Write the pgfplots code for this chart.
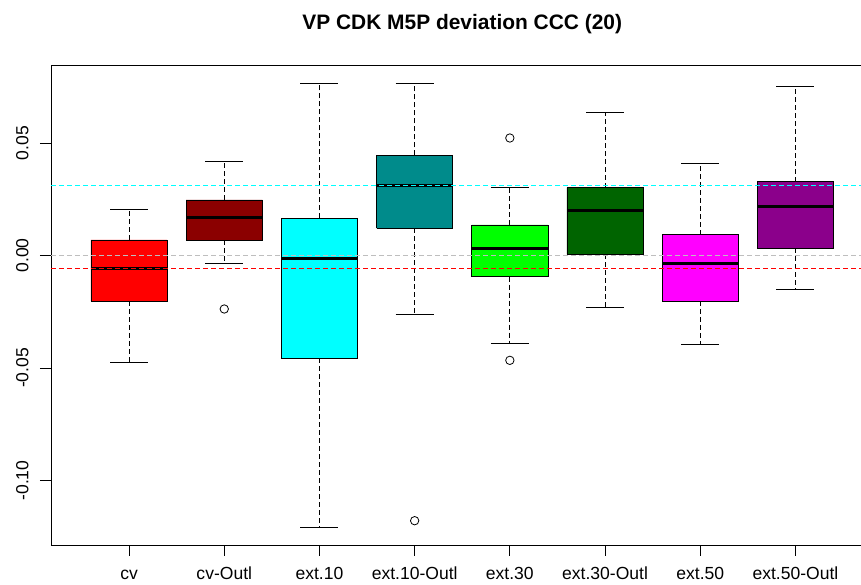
\documentclass[border=0pt]{standalone}
\usepackage{pgfplots}
\pgfplotsset{compat=1.18}
\usepackage{fontspec}
\setmainfont{Liberation Sans}
\definecolor{dkred}{HTML}{8B0000}
\definecolor{rcyan}{HTML}{00FFFF}
\definecolor{dkcyan}{HTML}{008B8B}
\definecolor{rgreen}{HTML}{00FF00}
\definecolor{dkgreen}{HTML}{006400}
\definecolor{rmag}{HTML}{FF00FF}
\definecolor{dkmag}{HTML}{8B008B}
\definecolor{rgrey}{HTML}{BEBEBE}
% #1 left, #2 right, #3 q1, #4 median, #5 q3, #6 fill
\newcommand{\rbox}[6]{%
  \addplot[draw=black, fill=#6, line width=0.8bp, line join=miter]
    coordinates {(#1,#3) (#2,#3) (#2,#5) (#1,#5) (#1,#3)};
  \addplot[black, line width=3bp] coordinates {(#1,#4) (#2,#4)};
}
% #1 center, #2 staple left, #3 staple right, #4 quartile, #5 whisker end
\newcommand{\rwhisk}[5]{%
  \addplot[black, line width=0.8bp, dash pattern=on 5bp off 3bp]
    coordinates {(#1,#4) (#1,#5)};
  \addplot[black, line width=0.8bp] coordinates {(#2,#5) (#3,#5)};
}
\begin{document}
\begin{tikzpicture}
\useasboundingbox (-51bp,-40bp) rectangle (810bp,545bp);
\begin{axis}[
  at={(0,0)}, anchor=south west,
  scale only axis,
  width=822.5bp, height=480bp,
  xmin=0.18, xmax=8.82,
  ymin=-0.12867, ymax=0.08467,
  axis line style={draw=none},
  xtick={1,2,3,4,5,6,7,8},
  xticklabels={cv,cv-Outl,ext.10,ext.10-Outl,ext.30,ext.30-Outl,ext.50,ext.50-Outl},
  ytick={-0.10,-0.05,0,0.05},
  yticklabels={-0.10,-0.05,0.00,0.05},
  xtick pos=bottom, ytick pos=left,
  tick align=outside,
  major tick length=11bp,
  tick style={black, line width=0.8bp},
  ticklabel style={font=\fontsize{17.6}{20}\selectfont},
  xticklabel style={anchor=base, yshift=-23.5bp},
  yticklabel style={xshift=-8bp, rotate=90, anchor=south},
  title={VP CDK M5P deviation CCC (20)},
  title style={font=\fontsize{21}{25}\selectfont\bfseries, anchor=base, at={(0.5,1)}, yshift=30bp},
  clip=false,
]
% frame (right side lies outside the picture)
\addplot[black, line width=0.8bp] coordinates {(0.18,-0.12867) (8.82,-0.12867)};
\addplot[black, line width=0.8bp] coordinates {(0.18,-0.12867) (0.18,0.08467) (8.82,0.08467)};
% cv
\rwhisk{1}{0.8}{1.2}{0.00689}{0.02053}
\rwhisk{1}{0.8}{1.2}{-0.02022}{-0.04747}
\rbox{0.6}{1.4}{-0.02022}{-0.00569}{0.00689}{red}
% cv-Outl
\rwhisk{2}{1.8}{2.2}{0.02467}{0.04169}
\rwhisk{2}{1.8}{2.2}{0.00689}{-0.00333}
\rbox{1.6}{2.4}{0.00689}{0.01698}{0.02467}{dkred}
% ext.10
\rwhisk{3}{2.8}{3.2}{0.01653}{0.07636}
\rwhisk{3}{2.8}{3.2}{-0.04569}{-0.12067}
\rbox{2.6}{3.4}{-0.04569}{-0.00142}{0.01653}{rcyan}
% ext.10-Outl
\rwhisk{4}{3.8}{4.2}{0.04453}{0.07636}
\rwhisk{4}{3.8}{4.2}{0.01209}{-0.02600}
\rbox{3.6}{4.4}{0.01209}{0.03102}{0.04453}{dkcyan}
% ext.30
\rwhisk{5}{4.8}{5.2}{0.01356}{0.03044}
\rwhisk{5}{4.8}{5.2}{-0.00942}{-0.03920}
\rbox{4.6}{5.4}{-0.00942}{0.00333}{0.01356}{rgreen}
% ext.30-Outl
\rwhisk{6}{5.8}{6.2}{0.03013}{0.06364}
\rwhisk{6}{5.8}{6.2}{0.00053}{-0.02320}
\rbox{5.6}{6.4}{0.00053}{0.02009}{0.03013}{dkgreen}
% ext.50
\rwhisk{7}{6.8}{7.2}{0.00924}{0.04111}
\rwhisk{7}{6.8}{7.2}{-0.02022}{-0.03947}
\rbox{6.6}{7.4}{-0.02022}{-0.00347}{0.00924}{rmag}
% ext.50-Outl
\rwhisk{8}{7.8}{8.2}{0.03280}{0.07520}
\rwhisk{8}{7.8}{8.2}{0.00320}{-0.01489}
\rbox{7.6}{8.4}{0.00320}{0.02169}{0.03280}{dkmag}
% outliers
\addplot[only marks, mark=o, mark size=4.2bp, mark options={black, line width=0.8bp}]
  coordinates {(2,-0.02378) (4,-0.11787) (5,0.05222) (5,-0.04660)};
% reference lines
\addplot[rgrey, line width=0.8bp, dash pattern=on 5bp off 3bp] coordinates {(0.18,0) (8.82,0)};
\addplot[red, line width=0.8bp, dash pattern=on 5bp off 3bp] coordinates {(0.18,-0.00569) (8.82,-0.00569)};
\addplot[rcyan, line width=0.8bp, dash pattern=on 5bp off 3bp] coordinates {(0.18,0.03102) (8.82,0.03102)};
\end{axis}
\end{tikzpicture}
\end{document}
